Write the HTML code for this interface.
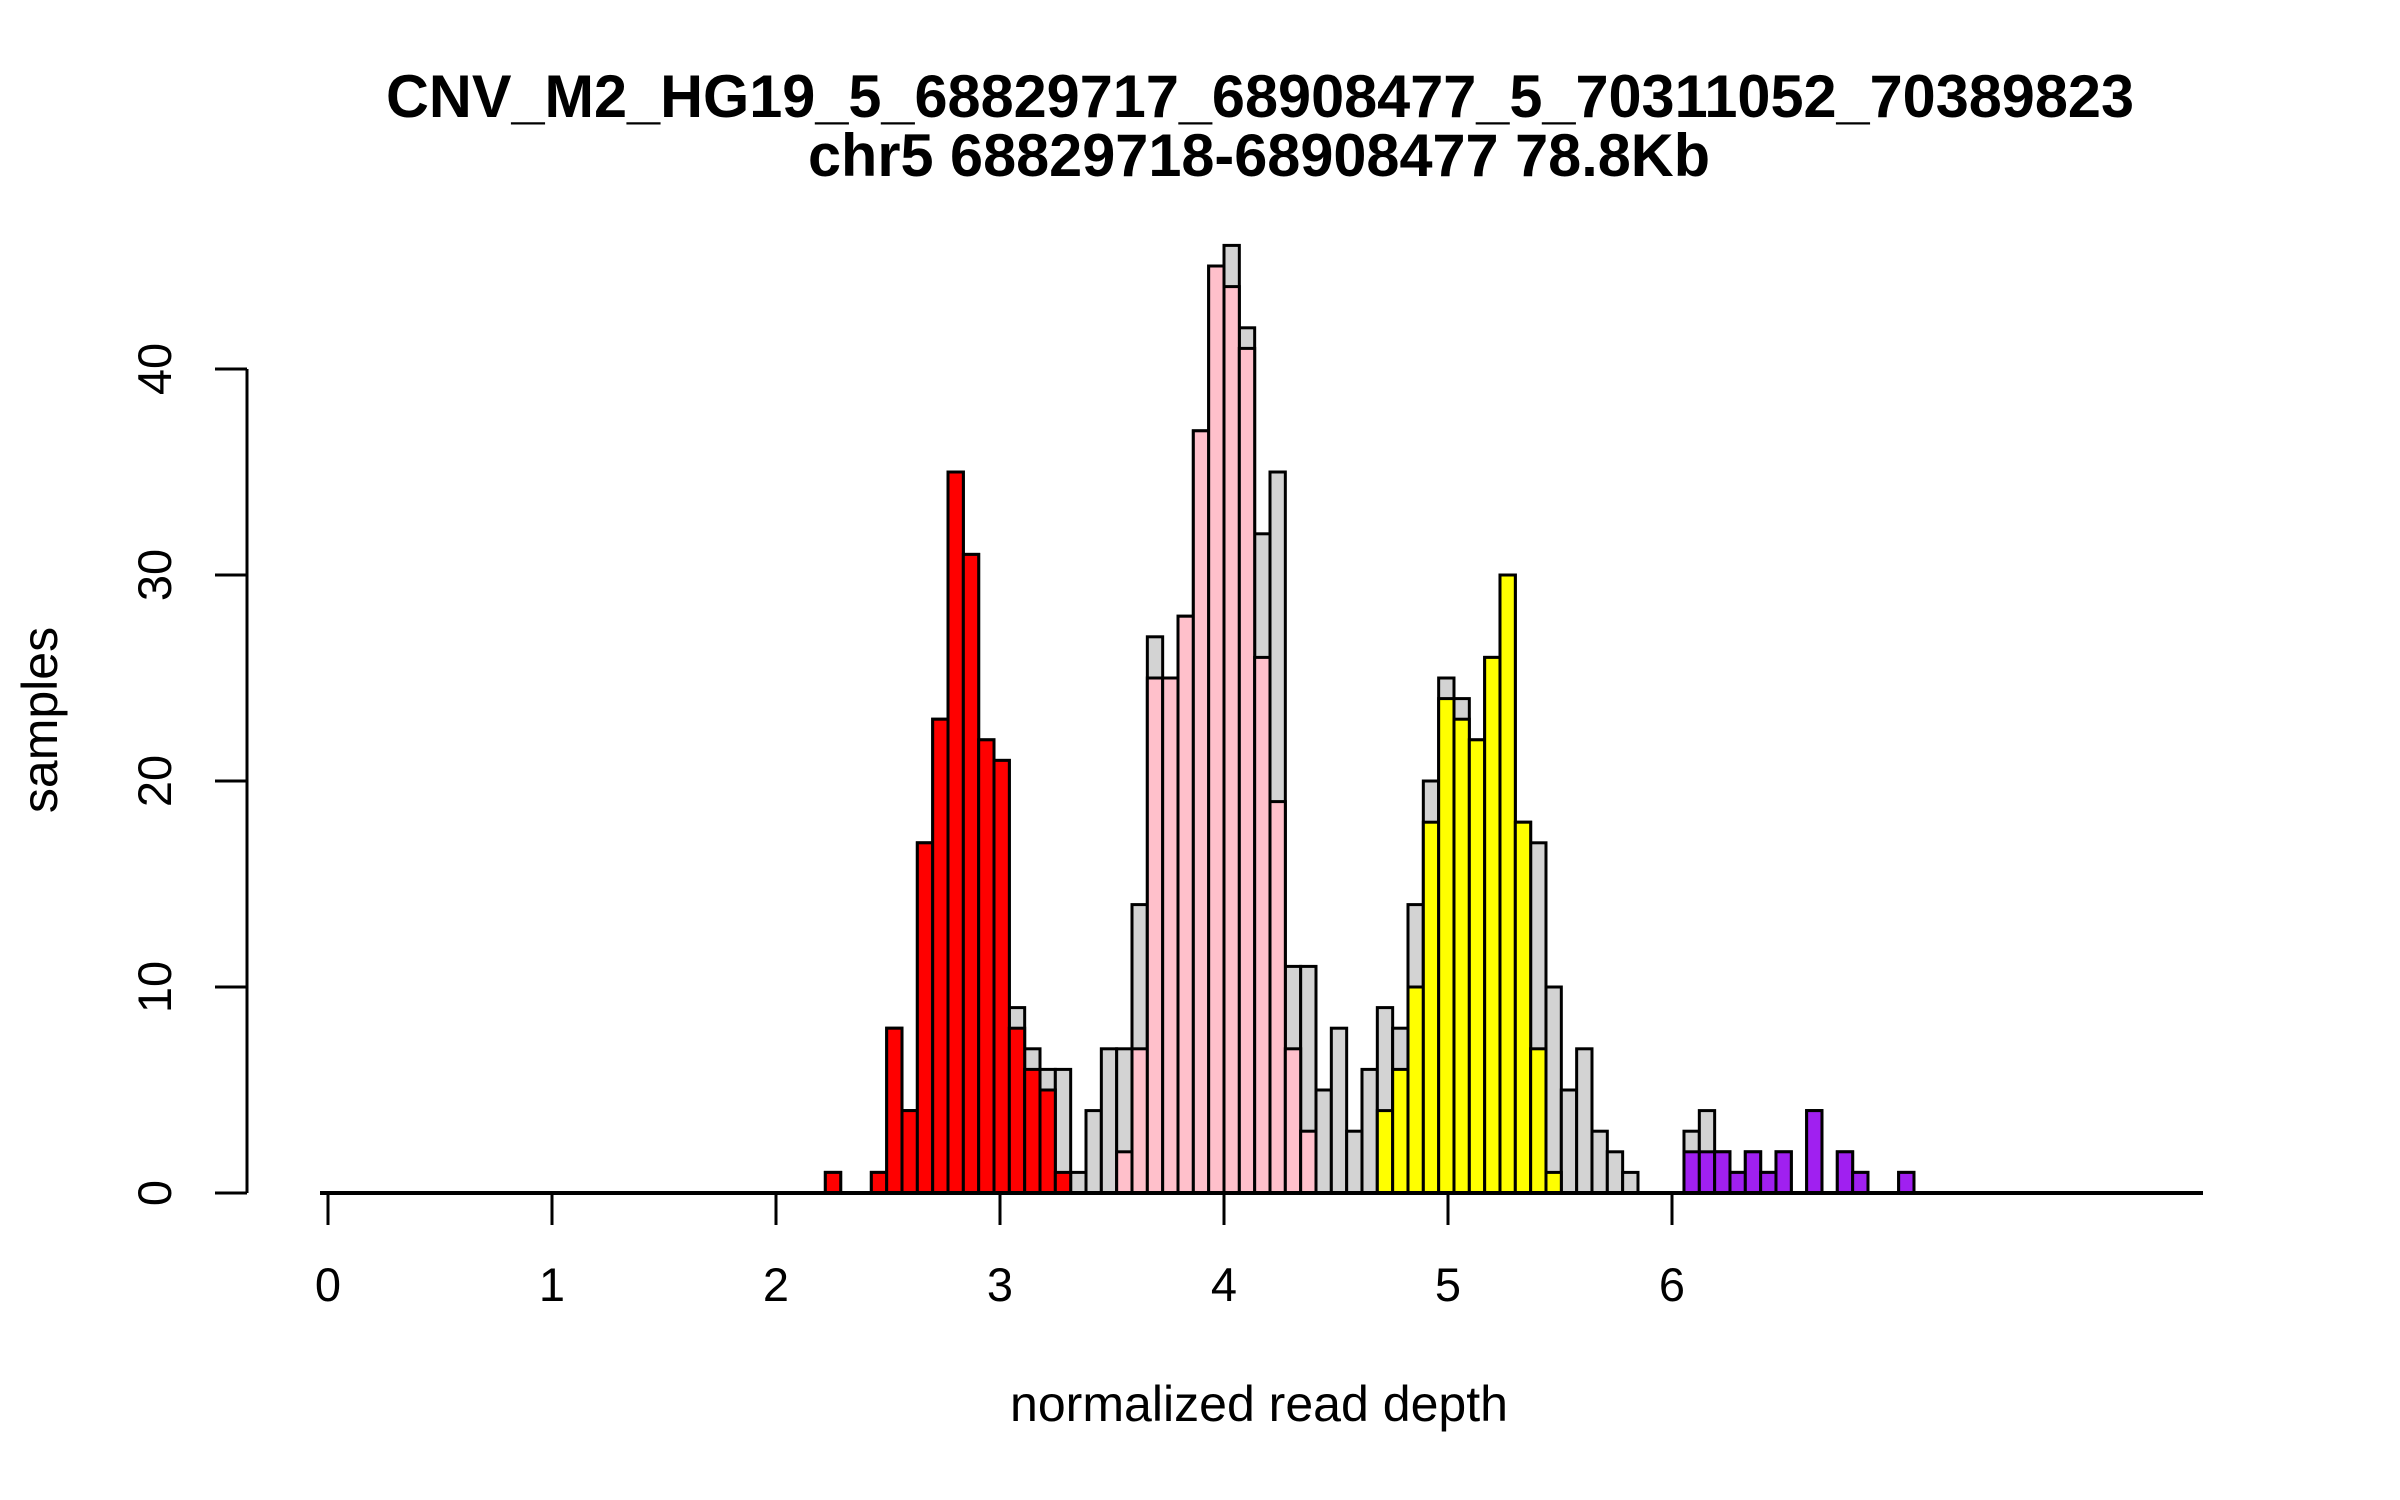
<!DOCTYPE html>
<html><head><meta charset="utf-8"><style>
html,body{margin:0;padding:0;background:#fff;}
svg{display:block;font-family:"Liberation Sans",Arial,sans-serif;}
</style></head><body>
<svg id="chart" width="2400" height="1500" viewBox="0 0 2400 1500" xmlns="http://www.w3.org/2000/svg">
<text x="1260" y="117" text-anchor="middle" font-size="60" font-weight="bold" textLength="1748" lengthAdjust="spacingAndGlyphs">CNV_M2_HG19_5_68829717_68908477_5_70311052_70389823</text>
<text x="1259" y="176" text-anchor="middle" font-size="60" font-weight="bold" textLength="902" lengthAdjust="spacingAndGlyphs">chr5 68829718-68908477 78.8Kb</text>
<text x="1259" y="1421" text-anchor="middle" font-size="50" textLength="498" lengthAdjust="spacingAndGlyphs">normalized read depth</text>
<text transform="translate(57,720) rotate(-90)" text-anchor="middle" font-size="50">samples</text>
<g id="bars"></g>
<g id="axes"></g>
</svg>
<script>
// bin index k relative to the bin starting at x=4; bin width in data units
const binStartIndex = -26;
const totalCounts = [1,0,0,1,8,4,17,23,35,31,22,21,9,7,6,6,1,4,7,7,14,27,25,28,37,45,46,42,32,35,11,11,5,8,3,6,9,8,14,20,25,24,22,26,30,18,17,10,5,7,3,2,1,0,0,0,3,4,2,1,2,1,2,0,4,0,2,1,0,0,1];
const redCounts =    [1,0,0,1,8,4,17,23,35,31,22,21,8,6,5,1,0,0,0,0,0,0,0,0,0,0,0,0,0,0,0,0,0,0,0,0,0,0,0,0,0,0,0,0,0,0,0,0,0,0,0,0,0,0,0,0,0,0,0,0,0,0,0,0,0,0,0,0,0,0,0];
const pinkCounts =   [0,0,0,0,0,0,0,0,0,0,0,0,0,0,0,0,0,0,0,2,7,25,25,28,37,45,44,41,26,19,7,3,0,0,0,0,0,0,0,0,0,0,0,0,0,0,0,0,0,0,0,0,0,0,0,0,0,0,0,0,0,0,0,0,0,0,0,0,0,0,0];
const yellowCounts = [0,0,0,0,0,0,0,0,0,0,0,0,0,0,0,0,0,0,0,0,0,0,0,0,0,0,0,0,0,0,0,0,0,0,0,0,4,6,10,18,24,23,22,26,30,18,7,1,0,0,0,0,0,0,0,0,0,0,0,0,0,0,0,0,0,0,0,0,0,0,0];
const purpleCounts = [0,0,0,0,0,0,0,0,0,0,0,0,0,0,0,0,0,0,0,0,0,0,0,0,0,0,0,0,0,0,0,0,0,0,0,0,0,0,0,0,0,0,0,0,0,0,0,0,0,0,0,0,0,0,0,0,2,2,2,1,2,1,2,0,4,0,2,1,0,0,1];
const xTicks = [0,1,2,3,4,5,6];
const yTicks = [0,10,20,30,40];
const binWidth = 0.06845;
const binAnchor = 4;

const NS = "http://www.w3.org/2000/svg";
const X0 = 328, XS = 224, Y0 = 1193, YS = 20.6;
function xs(v){ return X0 + v*XS; }
function ys(v){ return Y0 - v*YS; }
const bars = document.getElementById('bars');
const axes = document.getElementById('axes');
function mk(tag, attrs, parent){
  const e = document.createElementNS(NS, tag);
  for (const k in attrs) e.setAttribute(k, attrs[k]);
  parent.appendChild(e);
  return e;
}
function drawBar(i, val, fill, name){
  if (val <= 0) return;
  const left = binAnchor + (binStartIndex + i) * binWidth;
  const x1 = xs(left), x2 = xs(left + binWidth);
  const r = mk('rect', {x:x1, y:ys(val), width:x2-x1, height:ys(0)-ys(val), fill:fill, stroke:'#000', 'stroke-width':3}, bars);
  
  
}
totalCounts.forEach((v,i)=>drawBar(i, v, '#d3d3d3', 'bar-all-samples'));
redCounts.forEach((v,i)=>drawBar(i, v, '#ff0000', 'bar-red-group'));
pinkCounts.forEach((v,i)=>drawBar(i, v, '#ffc0cb', 'bar-pink-group'));
yellowCounts.forEach((v,i)=>drawBar(i, v, '#ffff00', 'bar-yellow-group'));
purpleCounts.forEach((v,i)=>drawBar(i, v, '#a020f0', 'bar-purple-group'));

const bl = mk('line', {x1:320, y1:Y0, x2:2203, y2:Y0, stroke:'#000', 'stroke-width':4}, axes);



xTicks.forEach(t=>{
  const l = mk('line', {x1:xs(t), y1:Y0, x2:xs(t), y2:Y0+32, stroke:'#000', 'stroke-width':3}, axes);
  
  
  const tx = mk('text', {x:xs(t), y:1301, 'text-anchor':'middle', 'font-size':47}, axes);
  tx.textContent = t;
  
  
});
const ya = mk('line', {x1:247, y1:ys(0), x2:247, y2:ys(40), stroke:'#000', 'stroke-width':3}, axes);


yTicks.forEach(t=>{
  const l = mk('line', {x1:215, y1:ys(t), x2:247, y2:ys(t), stroke:'#000', 'stroke-width':3}, axes);
  
  
  const tx = mk('text', {transform:'translate(171,'+ys(t)+') rotate(-90)', 'text-anchor':'middle', 'font-size':47}, axes);
  tx.textContent = t;
  
  
});
</script>
</body></html>
